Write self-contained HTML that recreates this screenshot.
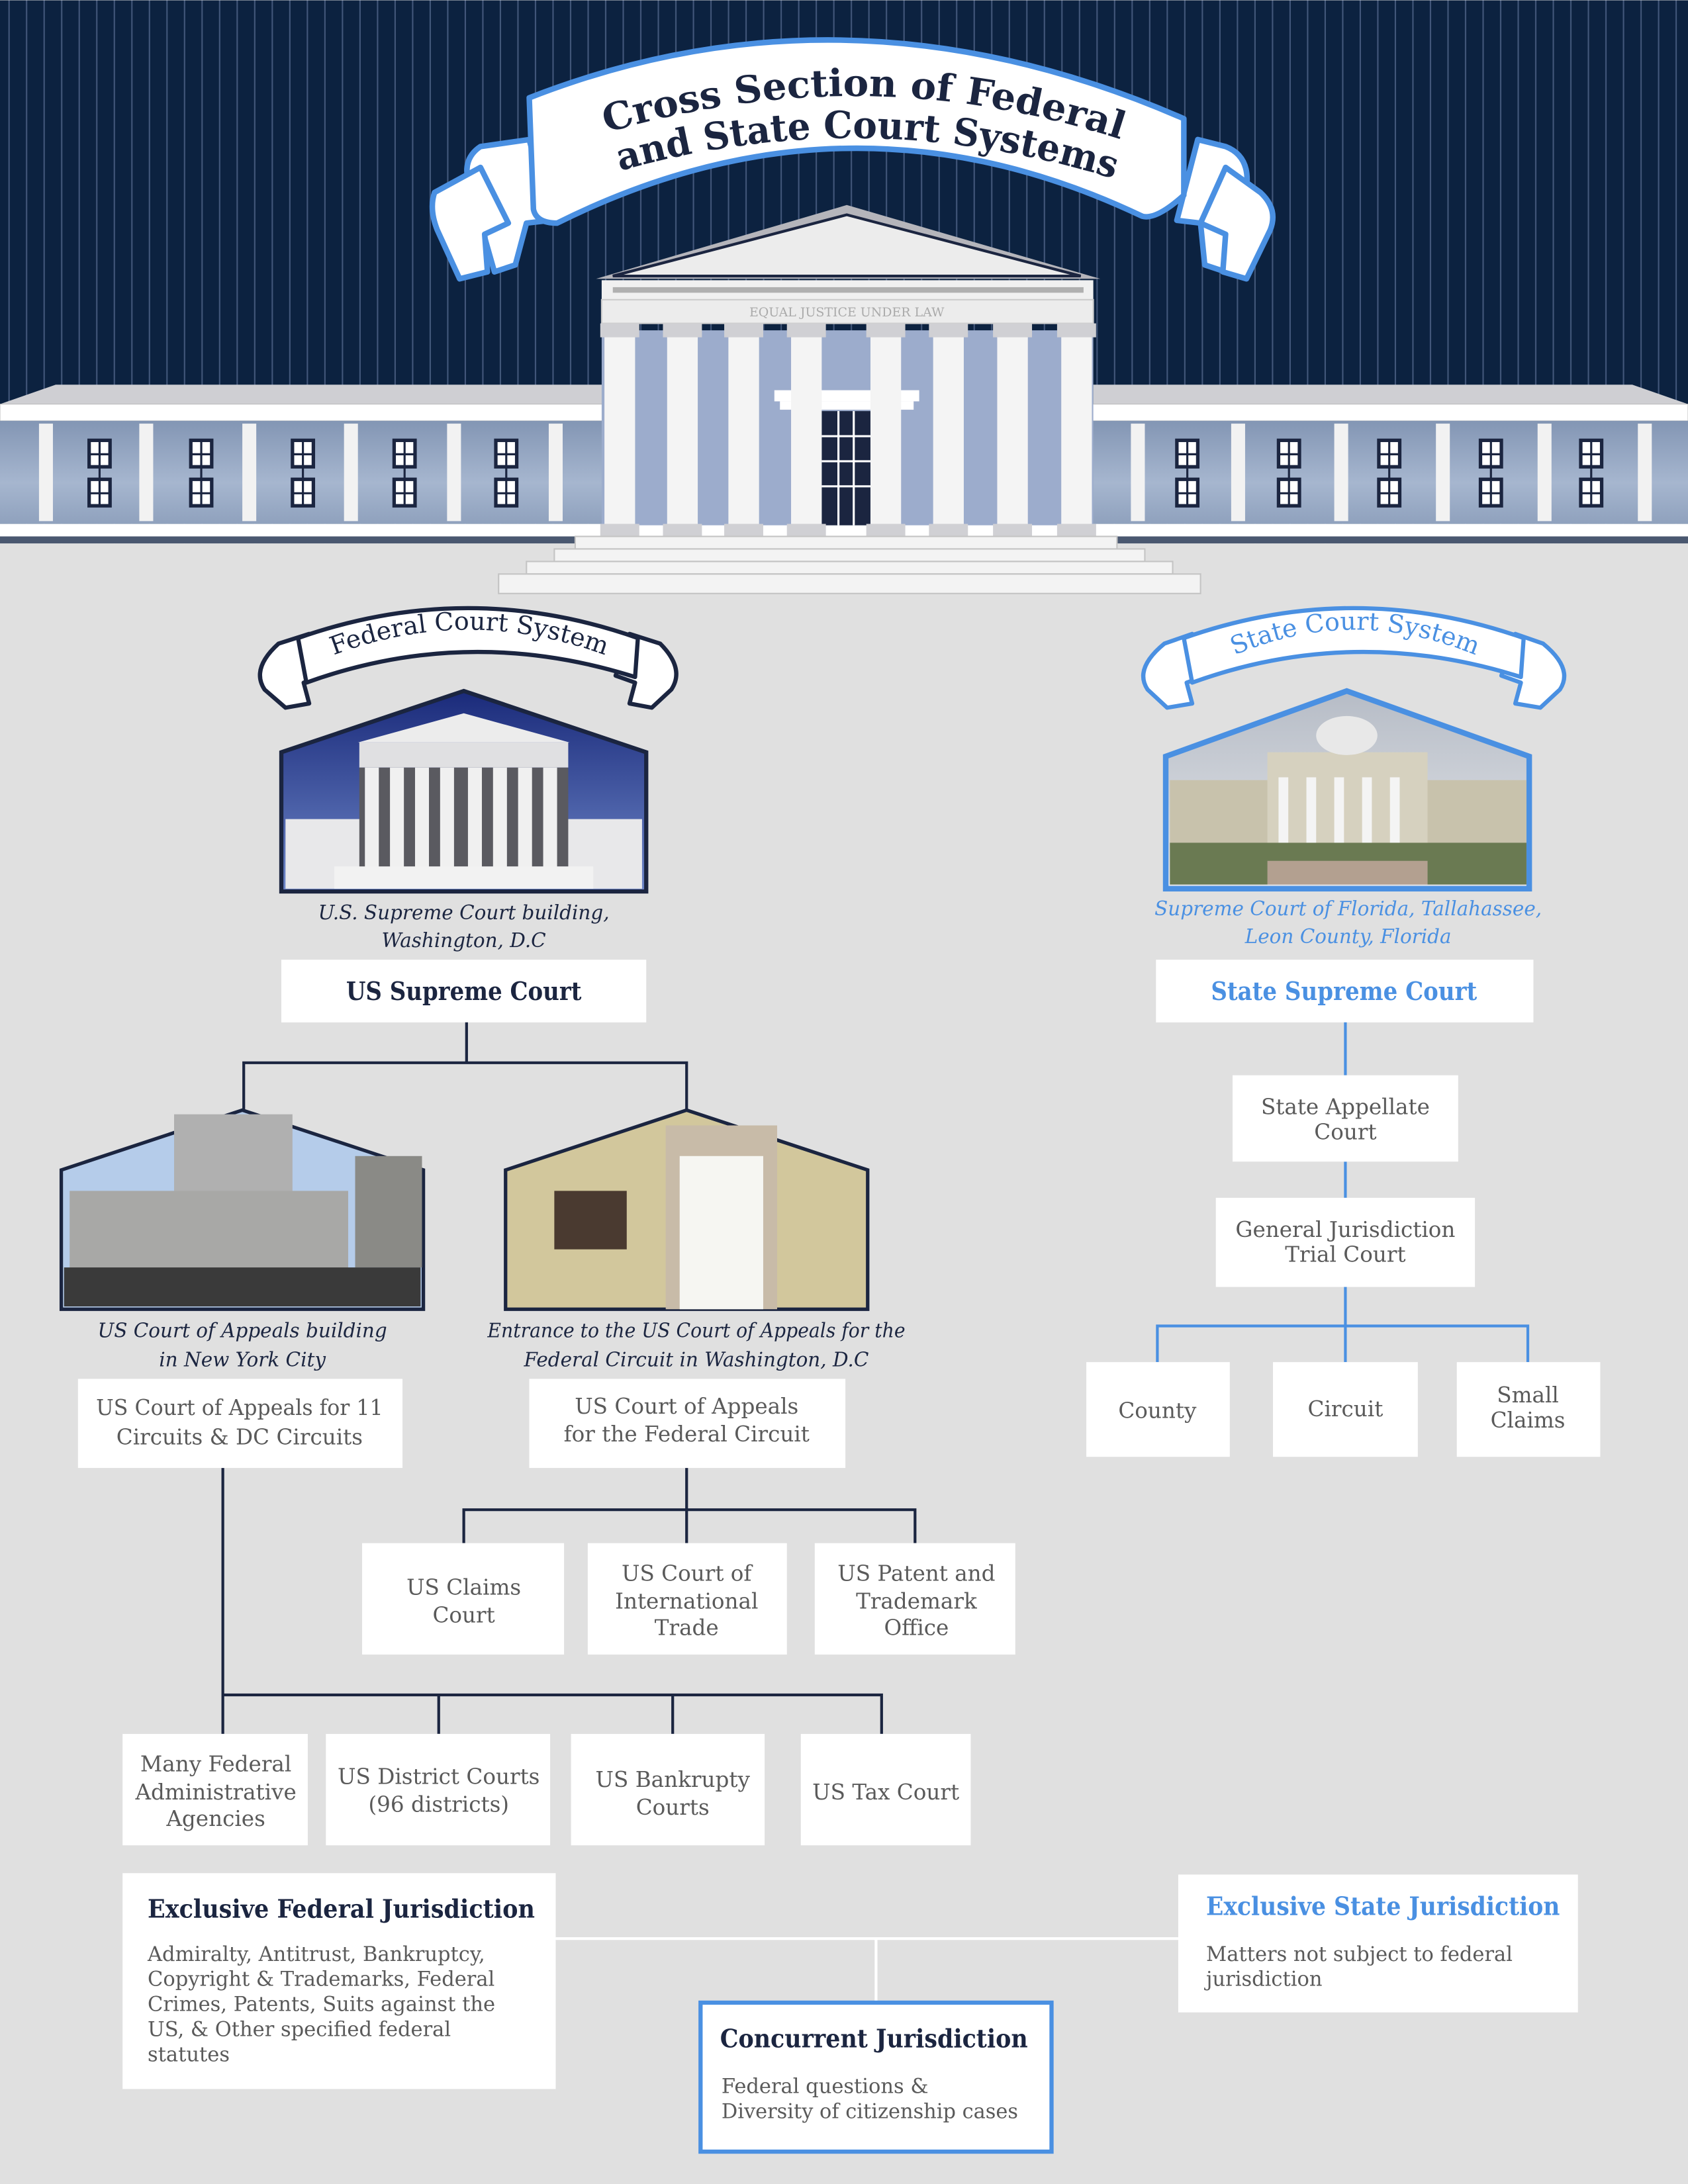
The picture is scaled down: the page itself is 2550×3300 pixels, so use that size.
<!DOCTYPE html>
<html><head><meta charset="utf-8"><style>
html,body{margin:0;padding:0;background:#e0e0e0}
svg{display:block}
text{font-family:"DejaVu Serif","Liberation Serif",serif}
.g{fill:#5a5a5a;font-size:15.5px;text-anchor:middle}
.cap{font-style:italic;font-size:14px;text-anchor:middle;fill:#1b2540}
.box{fill:#fff}
.nl{stroke:#1b2540;stroke-width:2;fill:none}
.bl{stroke:#4a90e2;stroke-width:2;fill:none}
</style></head><body>
<svg width="2550" height="3300" viewBox="0 0 1212 1568" xmlns="http://www.w3.org/2000/svg">
<defs>
<pattern id="st" width="12.6" height="10" patternUnits="userSpaceOnUse"><rect width="12.6" height="10" fill="#0c2240"/><rect x="6" width="1" height="10" fill="#42577a"/></pattern>
<linearGradient id="wing" x1="0" y1="0" x2="0" y2="1"><stop offset="0" stop-color="#8396b4"/><stop offset="0.6" stop-color="#a6b6cf"/><stop offset="1" stop-color="#8fa1bd"/></linearGradient>
<linearGradient id="sky" x1="0" y1="0" x2="0" y2="1"><stop offset="0" stop-color="#1a2a7a"/><stop offset="1" stop-color="#6d86c8"/></linearGradient>
<linearGradient id="sky2" x1="0" y1="0" x2="0" y2="1"><stop offset="0" stop-color="#b6bcc6"/><stop offset="1" stop-color="#e4e6ea"/></linearGradient>
<path id="t1" d="M420,100 Q620,35 820,105"/>
<path id="t2" d="M430,127 Q620,68 815,133"/>
<path id="f1" d="M230,474 Q336,430 444,474"/>
<path id="s1" d="M878,474 Q972,430 1068,474"/>
</defs>
<rect width="1212" height="1568" fill="#e0e0e0"/>
<rect width="1212" height="390" fill="url(#st)"/>

<!-- wings -->
<polygon points="0,290 40,276 435,276 435,290" fill="#cfcfd3"/>
<polygon points="785,290 785,276 1172,276 1212,290" fill="#cfcfd3"/>
<rect x="0" y="290" width="1212" height="12" fill="#fff" stroke="#bbb" stroke-width="0.5"/>
<rect x="0" y="302" width="1212" height="74" fill="url(#wing)"/>
<rect x="0" y="376" width="1212" height="9" fill="#fff"/>
<rect x="0" y="385" width="1212" height="5" fill="#4a5870"/>
<g fill="#f2f2f2">
<rect x="28" y="304" width="10" height="70"/><rect x="100" y="304" width="10" height="70"/><rect x="174" y="304" width="10" height="70"/><rect x="247" y="304" width="10" height="70"/><rect x="321" y="304" width="10" height="70"/><rect x="394" y="304" width="10" height="70"/>
<rect x="812" y="304" width="10" height="70"/><rect x="884" y="304" width="10" height="70"/><rect x="958" y="304" width="10" height="70"/><rect x="1031" y="304" width="10" height="70"/><rect x="1104" y="304" width="10" height="70"/><rect x="1176" y="304" width="10" height="70"/>
</g>
<g fill="#fff" stroke="#1b2540" stroke-width="2.5">
<rect x="64" y="316" width="15" height="19"/><rect x="64" y="344" width="15" height="19"/>
<rect x="137" y="316" width="15" height="19"/><rect x="137" y="344" width="15" height="19"/>
<rect x="210" y="316" width="15" height="19"/><rect x="210" y="344" width="15" height="19"/>
<rect x="283" y="316" width="15" height="19"/><rect x="283" y="344" width="15" height="19"/>
<rect x="356" y="316" width="15" height="19"/><rect x="356" y="344" width="15" height="19"/>
<rect x="845" y="316" width="15" height="19"/><rect x="845" y="344" width="15" height="19"/>
<rect x="918" y="316" width="15" height="19"/><rect x="918" y="344" width="15" height="19"/>
<rect x="990" y="316" width="15" height="19"/><rect x="990" y="344" width="15" height="19"/>
<rect x="1063" y="316" width="15" height="19"/><rect x="1063" y="344" width="15" height="19"/>
<rect x="1135" y="316" width="15" height="19"/><rect x="1135" y="344" width="15" height="19"/>
<rect x="460" y="316" width="14" height="20"/><rect x="505" y="316" width="14" height="20"/>
<rect x="700" y="316" width="14" height="20"/><rect x="744" y="316" width="14" height="20"/>
</g>
<g stroke="#1b2540" stroke-width="1.5">
<path d="M71.5,316V363M144.5,316V363M217.5,316V363M290.5,316V363M363.5,316V363M852.5,316V363M925.5,316V363M997.5,316V363M1070.5,316V363M1142.5,316V363M64,326H79M64,354H79M137,326H152M137,354H152M210,326H225M210,354H225M283,326H298M283,354H298M356,326H371M356,354H371M845,326H860M845,354H860M918,326H933M918,354H933M990,326H1005M990,354H1005M1063,326H1078M1063,354H1078M1135,326H1150M1135,354H1150M467,316V336M512,316V336M707,316V336M751,316V336"/>
</g>
<!-- portico -->
<rect x="432" y="237" width="353" height="140" fill="#9caccc"/>
<polygon points="428,200 608,147 790,200" fill="#b5b5bb"/>
<polygon points="440,198 608,154 776,198" fill="#ececec" stroke="#1b2540" stroke-width="2"/>
<rect x="432" y="201" width="353" height="14" fill="#f0f0f0"/>
<rect x="440" y="206" width="338" height="4" fill="#b0b0b0"/>
<rect x="432" y="215" width="353" height="17" fill="#ececec" stroke="#ccc" stroke-width="1"/>
<text x="608" y="227" font-size="9" fill="#aaa" text-anchor="middle" font-family="Liberation Sans">EQUAL JUSTICE UNDER LAW</text>
<rect x="556" y="280" width="104" height="8" fill="#fff"/>
<rect x="560" y="288" width="96" height="6" fill="#fff"/>
<rect x="590" y="295" width="35" height="82" fill="#1b2540"/>
<g stroke="#fff" stroke-width="1.5"><line x1="590" y1="313" x2="625" y2="313"/><line x1="590" y1="331" x2="625" y2="331"/><line x1="590" y1="349" x2="625" y2="349"/><line x1="602" y1="295" x2="602" y2="377"/><line x1="613" y1="295" x2="613" y2="377"/></g>
<g fill="#f4f4f4">
<rect x="434" y="240" width="22" height="137"/><rect x="479" y="240" width="22" height="137"/><rect x="523" y="240" width="22" height="137"/><rect x="568" y="240" width="22" height="137"/><rect x="625" y="240" width="22" height="137"/><rect x="670" y="240" width="22" height="137"/><rect x="716" y="240" width="22" height="137"/><rect x="762" y="240" width="22" height="137"/>
</g>
<g fill="#d0d0d4">
<rect x="431" y="232" width="28" height="10"/><rect x="476" y="232" width="28" height="10"/><rect x="520" y="232" width="28" height="10"/><rect x="565" y="232" width="28" height="10"/><rect x="622" y="232" width="28" height="10"/><rect x="667" y="232" width="28" height="10"/><rect x="713" y="232" width="28" height="10"/><rect x="759" y="232" width="28" height="10"/>
<rect x="431" y="376" width="28" height="9"/><rect x="476" y="376" width="28" height="9"/><rect x="520" y="376" width="28" height="9"/><rect x="565" y="376" width="28" height="9"/><rect x="622" y="376" width="28" height="9"/><rect x="667" y="376" width="28" height="9"/><rect x="713" y="376" width="28" height="9"/><rect x="759" y="376" width="28" height="9"/>
</g>
<!-- steps -->
<g fill="#f3f3f3" stroke="#c4c4c4" stroke-width="1">
<rect x="413" y="385" width="389" height="9"/>
<rect x="398" y="394" width="424" height="9"/>
<rect x="378" y="403" width="464" height="9"/>
<rect x="358" y="412" width="504" height="14"/>
</g>

<!-- title banner -->
<g fill="#fff" stroke="#4a90e2" stroke-width="4" stroke-linejoin="round">
<path d="M345,105 Q330,115 338,135 L355,195 L370,190 L378,160 L395,158 L380,100 Z"/>
<path d="M880,105 Q898,112 895,135 L880,195 L865,190 L862,160 L845,158 L860,100 Z"/>
<path d="M312,138 Q308,150 314,165 L330,200 L350,195 L348,168 L365,160 L345,120 Z"/>
<path d="M905,138 Q918,150 912,165 L895,200 L878,195 L880,168 L862,160 L880,120 Z"/>
<path d="M380,70 Q610,-20 850,85 L850,140 Q830,158 820,155 Q610,55 400,160 Q385,160 383,150 Z"/>
</g>
<g font-weight="bold" font-size="27" fill="#1b2540">
<text textLength="375" lengthAdjust="spacingAndGlyphs"><textPath href="#t1" startOffset="50%" text-anchor="middle" textLength="375" lengthAdjust="spacingAndGlyphs">Cross Section of Federal</textPath></text>
<text textLength="360" lengthAdjust="spacingAndGlyphs"><textPath href="#t2" startOffset="50%" text-anchor="middle" textLength="360" lengthAdjust="spacingAndGlyphs">and State Court Systems</textPath></text>
</g>

<!-- federal banner -->
<g fill="#fff" stroke="#1b2540" stroke-width="3" stroke-linejoin="round">
<path d="M200,462 Q180,480 190,495 L205,508 L222,505 L218,490 L232,485 L222,455 Z"/>
<path d="M474,462 Q492,480 482,495 L468,508 L452,505 L456,490 L442,485 L452,455 Z"/>
<path d="M214,458 Q336,415 458,458 L456,486 Q336,448 220,490 Z"/>
</g>
<text font-size="18" fill="#1b2540"><textPath href="#f1" startOffset="50%" text-anchor="middle">Federal Court System</textPath></text>
<!-- state banner -->
<g fill="#fff" stroke="#4a90e2" stroke-width="3" stroke-linejoin="round">
<path d="M836,462 Q814,480 824,495 L838,508 L856,505 L852,490 L866,485 L856,455 Z"/>
<path d="M1108,462 Q1130,480 1120,495 L1106,508 L1088,505 L1092,490 L1078,485 L1088,455 Z"/>
<path d="M850,458 Q972,415 1094,458 L1092,486 Q972,448 856,490 Z"/>
</g>
<text font-size="18" fill="#4a90e2"><textPath href="#s1" startOffset="50%" text-anchor="middle">State Court System</textPath></text>

<!-- federal photo -->
<polygon points="202,540 333,496 464,540 464,640 202,640" fill="url(#sky)" stroke="#1b2540" stroke-width="3"/>
<rect x="205" y="588" width="256" height="50" fill="#e8e8ea"/>
<polygon points="257,533 333,512 409,533" fill="#ececec"/>
<rect x="258" y="533" width="150" height="18" fill="#e0e0e2"/>
<rect x="258" y="551" width="150" height="75" fill="#5a5a60"/>
<g fill="#f0f0f0"><rect x="262" y="551" width="10" height="75"/><rect x="280" y="551" width="10" height="75"/><rect x="298" y="551" width="10" height="75"/><rect x="316" y="551" width="10" height="75"/><rect x="336" y="551" width="10" height="75"/><rect x="354" y="551" width="10" height="75"/><rect x="372" y="551" width="10" height="75"/><rect x="390" y="551" width="10" height="75"/></g>
<rect x="240" y="622" width="186" height="16" fill="#f2f2f2"/>
<text class="cap" x="333" y="660">U.S. Supreme Court building,</text>
<text class="cap" x="333" y="680">Washington, D.C</text>

<!-- state photo -->
<polygon points="837,543 967,496 1098,543 1098,638 837,638" fill="url(#sky2)" stroke="#4a90e2" stroke-width="4"/>
<rect x="840" y="560" width="256" height="50" fill="#c8c2ac"/>
<rect x="910" y="540" width="115" height="70" fill="#d6d1bf"/>
<ellipse cx="967" cy="528" rx="22" ry="14" fill="#e8e8e8"/>
<g fill="#f4f4f4"><rect x="918" y="558" width="7" height="55"/><rect x="938" y="558" width="7" height="55"/><rect x="958" y="558" width="7" height="55"/><rect x="978" y="558" width="7" height="55"/><rect x="998" y="558" width="7" height="55"/></g>
<rect x="840" y="605" width="256" height="30" fill="#6a7a52"/>
<rect x="910" y="618" width="115" height="17" fill="#b3a090"/>
<text class="cap" x="968" y="657" style="fill:#4a90e2">Supreme Court of Florida, Tallahassee,</text>
<text class="cap" x="968" y="677" style="fill:#4a90e2">Leon County, Florida</text>

<!-- federal tree -->
<rect class="box" x="202" y="689" width="262" height="45"/>
<text x="333" y="718" font-size="18" font-weight="bold" fill="#1b2540" text-anchor="middle" textLength="169" lengthAdjust="spacingAndGlyphs">US Supreme Court</text>
<path class="nl" d="M335,734V763M175,800V763H493V800"/>

<polygon points="44,840 174,797 304,840 304,940 44,940" fill="#b5ccea" stroke="#1b2540" stroke-width="2.5"/>
<rect x="125" y="800" width="85" height="60" fill="#b0b0b0"/>
<rect x="50" y="855" width="200" height="60" fill="#a8a8a6"/>
<rect x="255" y="830" width="48" height="80" fill="#8a8a86"/>
<rect x="46" y="910" width="256" height="28" fill="#3a3a3a"/>
<polygon points="363,840 493,797 623,840 623,940 363,940" fill="#d2c79c" stroke="#1b2540" stroke-width="2.5"/>
<rect x="478" y="808" width="80" height="132" fill="#c8bba8"/>
<rect x="488" y="830" width="60" height="110" fill="#f6f6f2"/>
<rect x="398" y="855" width="52" height="42" fill="#4a3a30"/>
<text class="cap" x="174" y="960">US Court of Appeals building</text>
<text class="cap" x="174" y="981">in New York City</text>
<text class="cap" x="500" y="960" textLength="300" lengthAdjust="spacingAndGlyphs">Entrance to the US Court of Appeals for the</text>
<text class="cap" x="500" y="981">Federal Circuit in Washington, D.C</text>

<rect class="box" x="56" y="990" width="233" height="64"/>
<text class="g" x="172" y="1016" textLength="206" lengthAdjust="spacingAndGlyphs">US Court of Appeals for 11</text>
<text class="g" x="172" y="1037">Circuits &amp; DC Circuits</text>
<rect class="box" x="380" y="990" width="227" height="64"/>
<text class="g" x="493" y="1015">US Court of Appeals</text>
<text class="g" x="493" y="1035">for the Federal Circuit</text>
<path class="nl" d="M493,1054V1084M333,1108V1084H657V1108M493,1084V1108"/>
<rect class="box" x="260" y="1108" width="145" height="80"/>
<text class="g" x="333" y="1145">US Claims</text><text class="g" x="333" y="1165">Court</text>
<rect class="box" x="422" y="1108" width="143" height="80"/>
<text class="g" x="493" y="1135">US Court of</text><text class="g" x="493" y="1155">International</text><text class="g" x="493" y="1174">Trade</text>
<rect class="box" x="585" y="1108" width="144" height="80"/>
<text class="g" x="658" y="1135">US Patent and</text><text class="g" x="658" y="1155">Trademark</text><text class="g" x="658" y="1174">Office</text>
<path class="nl" d="M160,1054V1245M160,1217H633V1245M315,1217V1245M483,1217V1245"/>
<rect class="box" x="88" y="1245" width="133" height="80"/>
<text class="g" x="155" y="1272">Many Federal</text><text class="g" x="155" y="1292">Administrative</text><text class="g" x="155" y="1311">Agencies</text>
<rect class="box" x="234" y="1245" width="161" height="80"/>
<text class="g" x="315" y="1281">US District Courts</text><text class="g" x="315" y="1301">(96 districts)</text>
<rect class="box" x="410" y="1245" width="139" height="80"/>
<text class="g" x="483" y="1283">US Bankrupty</text><text class="g" x="483" y="1303">Courts</text>
<rect class="box" x="575" y="1245" width="122" height="80"/>
<text class="g" x="636" y="1292">US Tax Court</text>

<!-- state tree -->
<rect class="box" x="830" y="689" width="271" height="45"/>
<text x="965" y="718" font-size="18" font-weight="bold" fill="#4a90e2" text-anchor="middle" textLength="191" lengthAdjust="spacingAndGlyphs">State Supreme Court</text>
<path class="bl" d="M966,734V772M966,834V860M966,924V952M831,978V952H1097V978M966,952V978"/>
<rect class="box" x="885" y="772" width="162" height="62"/>
<text class="g" x="966" y="800">State Appellate</text><text class="g" x="966" y="818">Court</text>
<rect class="box" x="873" y="860" width="186" height="64"/>
<text class="g" x="966" y="888">General Jurisdiction</text><text class="g" x="966" y="906">Trial Court</text>
<rect class="box" x="780" y="978" width="103" height="68"/>
<text class="g" x="831" y="1018">County</text>
<rect class="box" x="914" y="978" width="104" height="68"/>
<text class="g" x="966" y="1017">Circuit</text>
<rect class="box" x="1046" y="978" width="103" height="68"/>
<text class="g" x="1097" y="1007">Small</text><text class="g" x="1097" y="1025">Claims</text>

<!-- jurisdiction -->
<path d="M399,1392H846M629,1392V1437" stroke="#fff" stroke-width="2" fill="none"/>
<rect class="box" x="88" y="1345" width="311" height="155"/>
<rect class="box" x="846" y="1346" width="287" height="99"/>
<rect x="503" y="1438" width="252" height="107" fill="#fff" stroke="#4a90e2" stroke-width="3"/>
<text x="106" y="1377" font-size="18" font-weight="bold" fill="#1b2540" textLength="278" lengthAdjust="spacingAndGlyphs">Exclusive Federal Jurisdiction</text>
<text x="866" y="1375" font-size="18" font-weight="bold" fill="#4a90e2" textLength="254" lengthAdjust="spacingAndGlyphs">Exclusive State Jurisdiction</text>
<text x="517" y="1470" font-size="18" font-weight="bold" fill="#1b2540" textLength="221" lengthAdjust="spacingAndGlyphs">Concurrent Jurisdiction</text>
<g font-size="14.5" fill="#5a5a5a">
<text x="106" y="1408">Admiralty, Antitrust, Bankruptcy,</text>
<text x="106" y="1426">Copyright &amp; Trademarks, Federal</text>
<text x="106" y="1444">Crimes, Patents, Suits against the</text>
<text x="106" y="1462">US, &amp; Other specified federal</text>
<text x="106" y="1480">statutes</text>
<text x="866" y="1408">Matters not subject to federal</text>
<text x="866" y="1426">jurisdiction</text>
<text x="518" y="1503">Federal questions &amp;</text>
<text x="518" y="1521" textLength="213" lengthAdjust="spacingAndGlyphs">Diversity of citizenship cases</text>
</g>
</svg>
</body></html>
